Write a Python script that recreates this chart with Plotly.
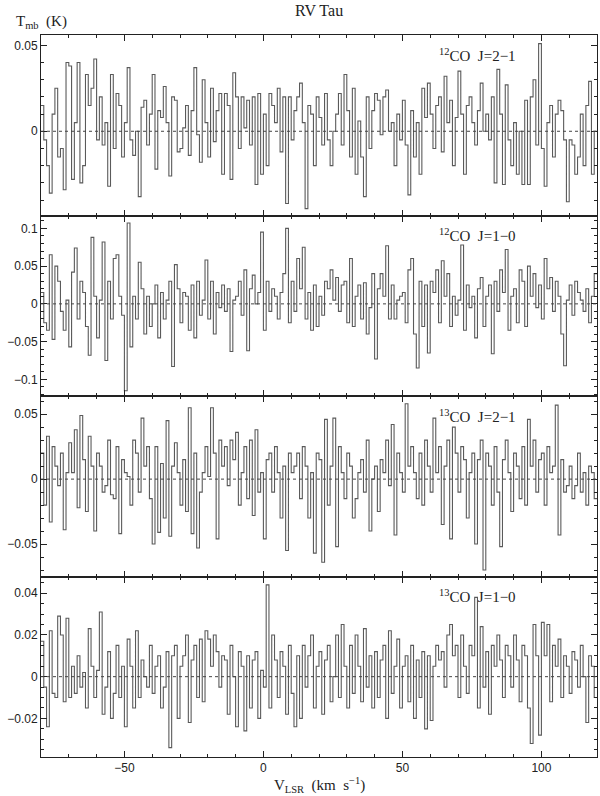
import numpy as np
import plotly.graph_objects as go
from plotly.subplots import make_subplots

# Velocity grid: 1 km/s channels, left edges from -80 to 119 km/s
V_START = -80.0
CHAN_WIDTH = 1.0

# Main-beam temperatures per channel, in mK
co12_21 = [
    15, -5, -20, -36, 10, 25, -15, -10, -34, 40,
    38, -28, 5, 40, -30, -20, 33, 15, 25, 42,
    -5, 20, -8, 5, -32, 33, -10, 22, 15, -15,
    5, 37, -5, -14, 0, -38, 14, 18, -8, 10,
    33, -22, 12, 8, 26, 5, -26, 20, 18, -12,
    -10, 2, 15, -14, 12, 37, -2, -18, 30, 5,
    -15, 25, -6, 12, 22, -25, 22, 15, -28, 34,
    20, -10, 20, 2, 18, -8, 20, -31, 22, -25,
    10, -20, 22, 15, 5, 25, -12, 20, -42, 20,
    -5, 12, 20, 28, 5, -45, 15, 10, -20, 20,
    8, -8, 22, -5, -20, 0, 10, 22, -8, 33,
    12, -15, 25, -25, 6, -15, -38, 20, -10, 12,
    22, 18, -2, 20, 24, 0, 5, -20, 10, -5,
    18, -8, -37, 12, -15, 5, -25, 25, 8, 28,
    10, -10, 15, 20, -12, 32, 5, 18, -20, 8,
    35, 10, -25, 15, 20, 5, -8, 12, 28, 0,
    10, -5, 20, -30, 36, 10, -31, 27, -5, -20,
    5, -25, 0, -31, 18, -31, 20, 30, -8, 51,
    -10, -32, 5, 15, -15, 10, 18, 12, -5, -41,
    -5, -8, -25, -15, 10, -20, 15, 29, -25, 0,
]
co12_10 = [
    15, -25, -35, 65, -47, 50, 30, -10, -35, 5,
    -57, 42, 74, -20, 30, 15, -30, -68, 88, 10,
    -45, 5, 82, -75, 30, -20, 60, 65, 10, -15,
    -115, 107, -57, 10, -20, 55, 20, -40, 10, -30,
    0, 25, -45, 15, -20, 5, 30, -83, 52, 20,
    -25, 15, 10, -35, 25, -45, 30, -15, 5, 58,
    -20, 30, -40, 15, -5, 25, -10, 20, -63, 5,
    10, 30, -15, 45, -62, 20, 38, 0, 15, 95,
    -35, 30, -10, 20, 10, -20, 15, 40, 100, -25,
    30, -10, 60, 20, 75, -20, 15, -35, 25, -30,
    10, -15, 30, 20, 45, 5, 35, -10, 25, 30,
    -25, 60, -30, 10, 25, -20, 28, -40, -5, 40,
    -73, 20, 40, 10, 77, -20, 25, -20, 5, 10,
    15, -25, 45, 60, -40, -85, 30, -30, 25, -65,
    30, 15, 45, -25, 57, 10, 40, -30, 10, -15,
    5, 78, -35, 25, -5, 10, -45, 20, 35, -30,
    10, 25, -66, 30, -10, 45, 15, 72, -35, 10,
    20, -25, 45, 30, -30, 50, 10, 40, -5, 25,
    -20, 60, 20, 35, -10, 30, 10, -40, -82, 5,
    25, -15, 30, 15, 5, -10, 20, -25, 10, 40,
]
co13_21 = [
    20, -20, 33, -33, 25, 10, -5, 20, -39, 5,
    28, 5, 38, -22, 49, 15, -25, 33, 10, -40,
    20, 10, -10, -5, 30, -12, -15, 25, -42, 15,
    5, 2, -20, 30, 20, -10, 47, 10, 25, -15,
    -50, 25, -41, 12, -30, 45, -44, 10, 28, 5,
    -20, 15, -25, 55, -42, 20, -53, -10, 5, 25,
    2, 55, 20, -46, 30, 10, 25, -5, 30, 15,
    36, -20, 5, 25, -15, 30, -28, 38, -10, 5,
    -46, 15, 20, -10, 25, 5, -30, 10, -55, 20,
    5, 10, 20, -15, 25, 10, -30, 5, -57, 20,
    15, -64, 46, -20, 10, 47, -52, 25, 5, -15,
    20, 10, -30, -15, 5, 15, -10, 30, -40, 0,
    10, -25, 15, 5, 30, -5, 42, -43, 20, 5,
    -10, 58, 10, 25, 5, -15, 20, -20, 30, 10,
    -10, 47, 5, 25, -35, 10, 30, -46, 40, 20,
    -10, 25, 15, -30, 5, 20, -50, 15, 30, -70,
    20, 10, -20, 25, -10, -52, 15, 30, 5, -25,
    20, 10, -15, 25, -20, 46, 10, 30, -10, 15,
    20, -20, 25, 5, 10, 57, -43, 15, -10, -5,
    10, -15, -5, 20, -10, 5, -20, 10, 5, -15,
]
co13_10 = [
    17, -5, -24, 22, -8, -10, 29, 20, -12, 28,
    -10, 5, -8, 10, -5, 2, -15, 23, 5, -10,
    3, 31, -18, -5, 12, -20, -8, 15, -10, 5,
    -24, 18, 5, -15, 22, -10, 8, 0, -5, 15,
    -8, 5, 10, -15, -5, 12, -34, 10, 15, -20,
    5, 10, 20, -22, 8, 15, -10, 18, -12, 22,
    18, 5, 20, 12, -5, 10, 8, -18, 15, 0,
    -24, 12, 5, -26, 10, -15, 8, 12, -20, 3,
    -5, 44, -15, 20, 8, -10, 12, 5, -18, 15,
    -8, -24, 10, -20, 15, -5, 10, 20, -15, 5,
    12, -18, 8, 15, -12, 0, 20, -10, 25, 5,
    -15, 15, -8, 20, 5, -12, 23, -5, 10, -15,
    12, -10, 8, 15, -20, 22, -8, 5, 18, -15,
    5, 10, -12, 15, -20, 8, -10, 12, -25, 10,
    -21, 5, 15, 8, 12, -5, 20, 25, 10, 15,
    -10, 20, 5, -8, 15, 10, 38, -15, 24, -5,
    12, -18, 15, 5, 20, 8, -10, 15, 10, -5,
    20, 8, -12, 15, 10, -15, -32, 25, 10, -28,
    26, 10, 25, -12, 15, 5, 18, -10, 10, 5,
    -8, 12, 8, -5, 15, 0, -22, 10, 5, -10,
]

line_labels = ["<sup>12</sup>CO  J=2\u22121", "<sup>12</sup>CO  J=1\u22120",
               "<sup>13</sup>CO  J=2\u22121", "<sup>13</sup>CO  J=1\u22120"]
y_ranges = [[-0.049, 0.056], [-0.122, 0.117], [-0.075, 0.064], [-0.0385, 0.048]]
y_dticks = [0.05, 0.05, 0.05, 0.02]
y_minor = [0.01, 0.01, 0.01, 0.005]

SERIF = "Liberation Serif"
SANS = "Liberation Sans"
INK = "#222222"


def step_xy(values_mk):
    """Channel edges and temperatures (K) for an 'hv' step plot."""
    t = np.asarray(values_mk, dtype=float) / 1000.0
    edges = V_START + CHAN_WIDTH * np.arange(len(t) + 1)
    return edges, np.append(t, t[-1])


spectra = [co12_21, co12_10, co13_21, co13_10]

fig = make_subplots(rows=4, cols=1, shared_xaxes=True, vertical_spacing=0)

for i, spec in enumerate(spectra):
    row = i + 1
    x, y = step_xy(spec)
    fig.add_trace(go.Scatter(x=x, y=y, mode="lines", line_shape="hv",
                             line=dict(color="#5a5a5a", width=1.1),
                             showlegend=False, hoverinfo="skip"),
                  row=row, col=1)
    # dotted baseline
    fig.add_hline(y=0, line=dict(color="#444444", width=1, dash="dot"), row=row, col=1)

    fig.update_yaxes(range=y_ranges[i], dtick=y_dticks[i], tick0=0, automargin=False,
                     ticks="inside", ticklen=6, tickwidth=1, tickcolor=INK,
                     minor=dict(dtick=y_minor[i], ticks="inside", ticklen=3, tickcolor=INK),
                     showline=True, linecolor=INK, linewidth=1, mirror="allticks",
                     showgrid=False, zeroline=False,
                     tickfont=dict(family=SANS, size=12, color=INK),
                     row=row, col=1)
    fig.update_xaxes(range=[-80, 120], dtick=50, tick0=0, automargin=False,
                     ticks="inside", ticklen=6, tickwidth=1, tickcolor=INK,
                     minor=dict(dtick=10, ticks="inside", ticklen=3, tickcolor=INK),
                     showline=True, linecolor=INK, linewidth=1, mirror="allticks",
                     showgrid=False, zeroline=False,
                     showticklabels=(row == 4),
                     tickfont=dict(family=SANS, size=12, color=INK),
                     row=row, col=1)

    axis_id = "" if row == 1 else str(row)
    fig.add_annotation(text=line_labels[i], showarrow=False,
                       xref=f"x{axis_id} domain", yref=f"y{axis_id} domain",
                       x=0.712, y=0.89, xanchor="left", yanchor="middle",
                       font=dict(family=SERIF, size=15, color=INK))

# Title and axis captions
fig.add_annotation(text="RV Tau", showarrow=False, xref="paper", yref="paper",
                   x=0.5, y=1, yshift=25, xanchor="center", yanchor="middle",
                   font=dict(family=SERIF, size=16, color=INK))
fig.add_annotation(text="T<sub>mb</sub>  (K)", showarrow=False, xref="paper", yref="paper",
                   x=0, xshift=-27, y=1, yshift=13, xanchor="left", yanchor="middle",
                   font=dict(family=SERIF, size=15, color=INK))
fig.add_annotation(text="V<sub>LSR</sub>  (km  s<sup>\u22121</sup>)", showarrow=False,
                   xref="paper", yref="paper", x=0.5, y=0, yshift=-28,
                   xanchor="center", yanchor="middle",
                   font=dict(family=SERIF, size=15, color=INK))

fig.update_layout(width=600, height=796,
                  margin=dict(l=41, r=3, t=35, b=39),
                  paper_bgcolor="white", plot_bgcolor="white")

# drop the page's default body margin so the figure fills the window exactly
fig.write_html("out.html", config={"displayModeBar": False},
               post_script="document.body.style.margin = '0';")
